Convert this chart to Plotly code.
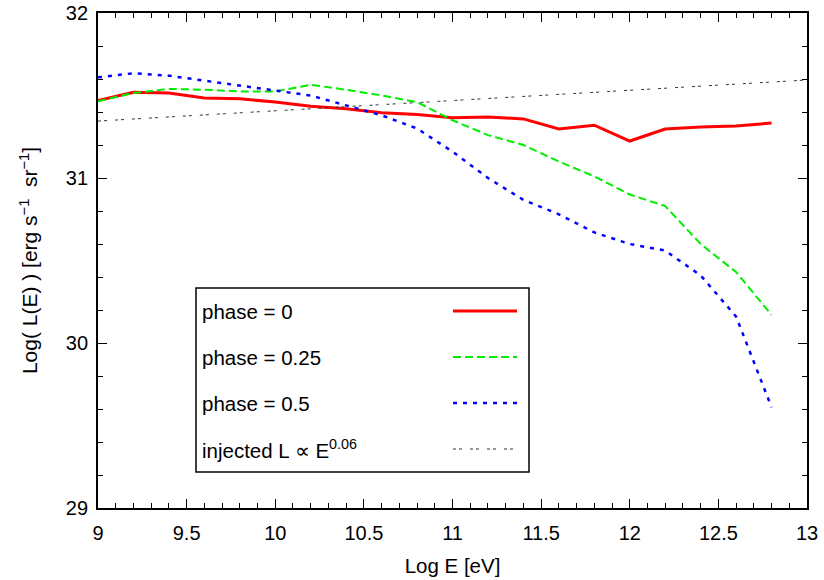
import plotly.graph_objects as go

log_e = [9.0, 9.2, 9.4, 9.6, 9.8, 10.0, 10.2, 10.4, 10.6, 10.8,
         11.0, 11.2, 11.4, 11.6, 11.8, 12.0, 12.2, 12.4, 12.6, 12.8]
phase_0 = [31.47, 31.52, 31.515, 31.485, 31.48, 31.46, 31.435, 31.42, 31.395, 31.385,
           31.365, 31.37, 31.358, 31.297, 31.32, 31.224, 31.297, 31.309, 31.315, 31.333]
phase_025 = [31.465, 31.515, 31.54, 31.535, 31.525, 31.525, 31.565, 31.535, 31.50, 31.46,
             31.35, 31.26, 31.20, 31.10, 31.01, 30.90, 30.83, 30.60, 30.43, 30.17]
phase_05 = [31.61, 31.635, 31.62, 31.59, 31.56, 31.53, 31.50, 31.44, 31.38, 31.30,
            31.16, 31.00, 30.867, 30.78, 30.67, 30.60, 30.56, 30.41, 30.16, 29.61]
inj_x = [9.0, 13.0]
inj_y = [31.345, 31.594]

labels = ["phase = 0", "phase = 0.25", "phase = 0.5", "injected L \u221d E<sup>0.06</sup>"]
colors = ["#ff0000", "#00ee00", "#0000ff", "#333333"]
dashes = ["solid", "8px,4px", "4px,6px", "3px,3px,3px,8px"]
widths = [3, 2, 2.5, 1]

fig = go.Figure()
series = [(log_e, phase_0), (log_e, phase_025), (log_e, phase_05), (inj_x, inj_y)]
for (xs, ys), lab, c, d, w in zip(series, labels, colors, dashes, widths):
    fig.add_trace(go.Scatter(x=xs, y=ys, mode="lines", name=lab, showlegend=False,
                             line=dict(color=c, dash=d, width=w)))

# plot-area geometry in pixels (for the hand-made gnuplot-style key)
L, R, T, B = 98, 807, 13, 508
def px(x):
    return (x - L) / (R - L)
def py(y):
    return (B - y) / (B - T)

shapes = [dict(type="rect", xref="paper", yref="paper",
               x0=px(196), x1=px(529), y0=py(472), y1=py(288),
               line=dict(color="black", width=1.5), fillcolor="white", layer="above")]
annotations = []
row_y = [311, 357, 403, 449]
for lab, c, d, w, ry in zip(labels, colors, dashes, widths, row_y):
    shapes.append(dict(type="line", xref="paper", yref="paper",
                       x0=px(453), x1=px(517), y0=py(ry), y1=py(ry),
                       line=dict(color=c, dash=d, width=w), layer="above"))
    annotations.append(dict(xref="paper", yref="paper", x=px(200), y=py(ry),
                            text=lab, showarrow=False, xanchor="left", yanchor="middle",
                            font=dict(size=20.5, color="black")))

axis_common = dict(showgrid=False, zeroline=False, showline=True, linecolor="black",
                   linewidth=1.8, mirror="ticks", ticks="inside", ticklen=9,
                   tickwidth=1.2, tickcolor="black", automargin=False,
                   tickfont=dict(size=20, color="black"))

fig.update_layout(
    width=824, height=580,
    margin=dict(l=L, r=824 - R, t=T, b=580 - B),
    paper_bgcolor="white", plot_bgcolor="white",
    font=dict(family="Liberation Sans, Arial, sans-serif", color="black"),
    xaxis=dict(range=[9, 13], dtick=0.5, tick0=9, ticklabelstandoff=6,
               minor=dict(dtick=0.1, ticks="inside", ticklen=5, tickcolor="black"),
               title=dict(text="Log E [eV]", font=dict(size=20.5), standoff=16),
               **axis_common),
    yaxis=dict(range=[29, 32], dtick=1, tick0=29, ticklabelstandoff=4,
               minor=dict(dtick=0.2, ticks="inside", ticklen=5, tickcolor="black"),
               title=dict(text="Log( L(E) ) [erg s<sup>\u22121</sup>  sr<sup>\u22121</sup>]",
                          font=dict(size=21), standoff=22),
               **axis_common),
    shapes=shapes, annotations=annotations, showlegend=False,
)

fig.write_html("out.html")
